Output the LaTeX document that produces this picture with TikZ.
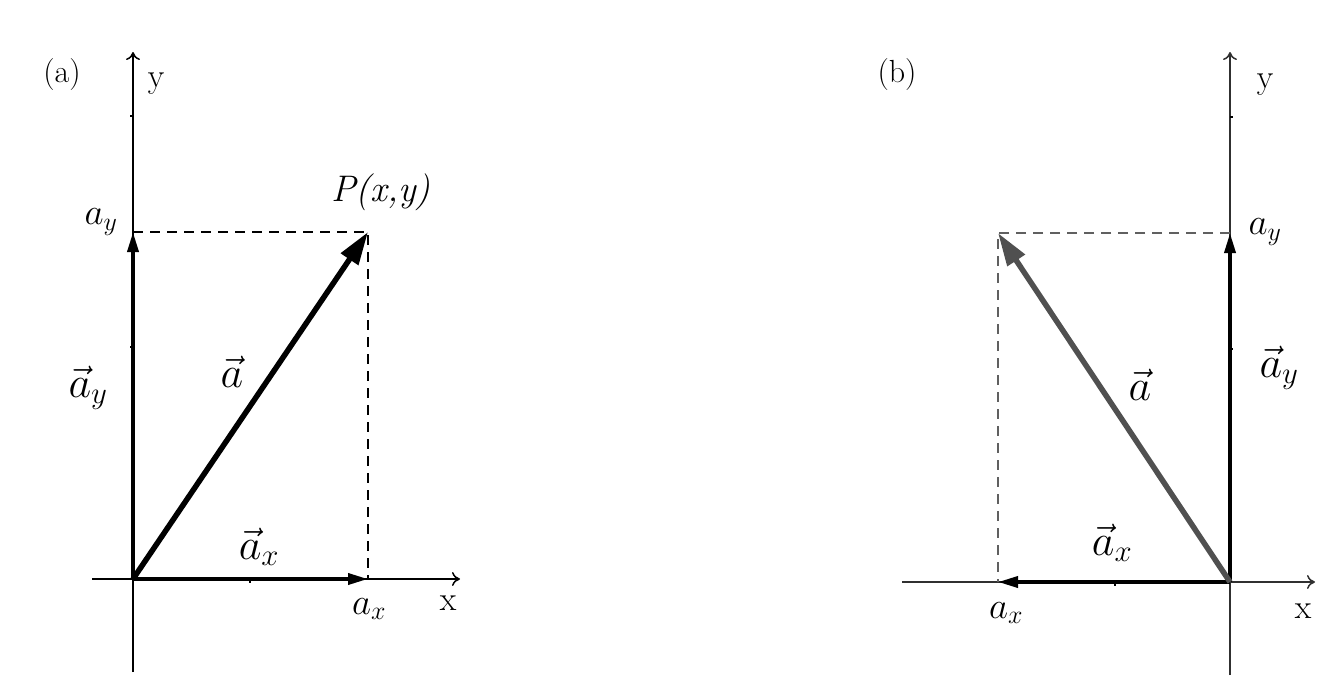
\RequirePackage{fix-cm}
\documentclass[tikz,border=0pt]{standalone}
\usepackage{fontspec}
\usetikzlibrary{arrows.meta}
\definecolor{vecgray}{HTML}{505050}
\definecolor{dashgray}{HTML}{606060}
\definecolor{axgray}{HTML}{303030}
\tikzset{
  axisline/.style={line width=1.8pt,-{To[length=8pt,width=14pt,line width=1.5pt]}},
  compvec/.style={line width=3.6pt,-{Triangle[length=20pt,width=11pt]}},
  mainvec/.style={line width=5.5pt,-{Triangle[length=33pt,width=20pt]}},
  guide/.style={line width=2pt,dash pattern=on 10pt off 7pt},
  tickmark/.style={line width=1.5pt},
  lbl/.style={inner sep=0pt,font=\fontsize{32}{36}\selectfont},
  axlbl/.style={inner sep=0pt,font=\fontsize{34}{38}\selectfont},
  small/.style={inner sep=0pt,font=\fontsize{37}{42}\selectfont},
  big/.style={inner sep=0pt,font=\fontsize{44}{50}\selectfont},
}
\begin{document}
\begin{tikzpicture}[x=1pt,y=-1pt]
\useasboundingbox[fill=white] (0,0) rectangle (1343,699);
% ---------- panel (a)
\coordinate (aO) at (133,579);
\coordinate (aYb) at (133,672);
\coordinate (aYt) at (133,52);
\coordinate (aXl) at (92,579);
\coordinate (aXr) at (460,579);
\coordinate (aP) at (368,232);
\coordinate (aPy) at (133,232);
\coordinate (aPx) at (368,579);
\draw[axisline] (aYb) -- (aYt);
\draw[axisline] (aXl) -- (aXr);
\foreach \yy in {116,347} \draw[tickmark] (133,\yy) -- (130,\yy);
\draw[tickmark] (250,579) -- (250,583);
\draw[guide] (aPy) -- (aP) -- (aPx);
\draw[compvec] (aO) -- (aPy);
\draw[compvec] (aO) -- (aPx);
\draw[mainvec] (aO) -- (aP);
\node[lbl] (la) at (62,75) {(a)};
\node[axlbl] (lya) at (156,84) {y};
\node[axlbl] (lxa) at (448,603) {x};
\node[small] (aya) at (101,222) {$a_y$};
\node[small] (axa) at (369,609) {$a_x$};
\node[inner sep=0pt,font=\fontsize{37}{42}\selectfont] (Pa) at (381,192) {\textit{P(x,y)}};
\node[big] (va) at (232,372) {$\vec{a}$};
\node[big] (vya) at (88,388) {$\vec{a}_y$};
\node[big] (vxa) at (259,547) {$\vec{a}_x$};
% ---------- panel (b)
\coordinate (bO) at (1230,582);
\coordinate (bYb) at (1230,675);
\coordinate (bYt) at (1230,52);
\coordinate (bXl) at (902,582);
\coordinate (bXr) at (1315,582);
\coordinate (bP) at (998,233);
\coordinate (bPy) at (1230,233);
\coordinate (bPx) at (998,582);
\draw[axisline,axgray] (bYb) -- (bYt);
\draw[axisline,axgray] (bXl) -- (bXr);
\foreach \yy in {117,349} \draw[tickmark] (1230,\yy) -- (1233,\yy);
\draw[tickmark] (1115,582) -- (1115,586);
\draw[guide,dashgray] (bPy) -- (bP) -- (bPx);
\draw[compvec] (bO) -- (bPy);
\draw[compvec] (bO) -- (bPx);
\draw[mainvec,vecgray] (bO) -- (bP);
\node[lbl] (lb) at (897,75) {(b)};
\node[axlbl] (lyb) at (1265,85) {y};
\node[axlbl] (lxb) at (1303,611) {x};
\node[small] (ayb) at (1265,232) {$a_y$};
\node[small] (axb) at (1006,613) {$a_x$};
\node[big] (vb) at (1140,385) {$\vec{a}$};
\node[big] (vyb) at (1279,368) {$\vec{a}_y$};
\node[big] (vxb) at (1112,543) {$\vec{a}_x$};
\end{tikzpicture}
\end{document}
